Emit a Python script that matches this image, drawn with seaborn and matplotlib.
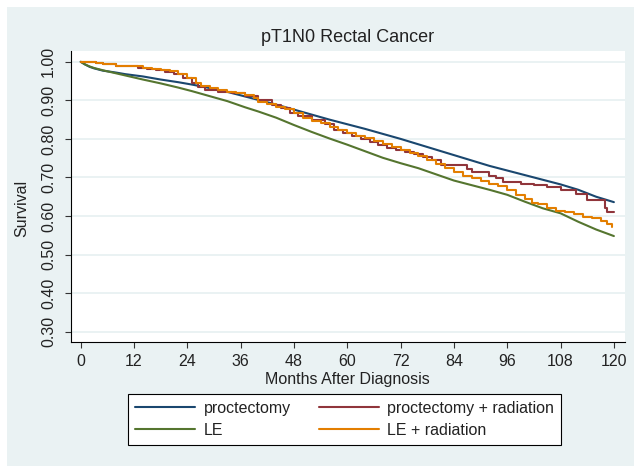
import numpy as np
import pandas as pd
import matplotlib
matplotlib.use("Agg")
import matplotlib.pyplot as plt
import seaborn as sns
from matplotlib.patches import Rectangle
from matplotlib.lines import Line2D

# ---------------- data ----------------
groups = ["proctectomy", "proctectomy + radiation", "LE", "LE + radiation"]
colors = ["#1A476F", "#90353B", "#55752F", "#E37E00"]

proct_t = [0, 1, 2, 3, 5, 8, 10, 14, 18, 22, 25, 29, 33, 37, 40, 44, 48, 52, 56,
           60, 64, 68, 72, 76, 80, 84, 88, 92, 96, 100, 104, 108, 112, 116, 120]
proct_s = [1.0, 0.993, 0.987, 0.983, 0.977, 0.972, 0.968, 0.962, 0.954, 0.947, 0.941,
           0.932, 0.922, 0.910, 0.901, 0.889, 0.876, 0.863, 0.850, 0.838, 0.826, 0.813,
           0.800, 0.786, 0.772, 0.758, 0.744, 0.730, 0.718, 0.706, 0.694, 0.682, 0.668,
           0.650, 0.636]

proctrad_t = [0, 3.5, 5, 8, 11, 13, 15, 17, 19, 21, 23, 25, 26.5, 28, 31, 34, 37, 40,
              43, 45, 47, 49, 52, 55, 57, 59, 61, 63, 65, 67, 69, 71, 73, 75, 77, 79,
              81, 87, 88, 92, 93.5, 95, 99, 102, 105, 108, 111.5, 114, 118, 118.5, 120]
proctrad_s = [1.0, 0.996, 0.994, 0.990, 0.988, 0.985, 0.982, 0.979, 0.973, 0.968, 0.958,
              0.945, 0.935, 0.927, 0.922, 0.918, 0.910, 0.900, 0.888, 0.880, 0.868, 0.860,
              0.850, 0.838, 0.824, 0.815, 0.808, 0.800, 0.792, 0.785, 0.776, 0.770, 0.765,
              0.760, 0.752, 0.744, 0.733, 0.722, 0.715, 0.705, 0.698, 0.689, 0.683, 0.680,
              0.674, 0.667, 0.657, 0.641, 0.620, 0.611, 0.611]

le_t = [0, 1, 2, 3, 5, 8, 11, 14, 18, 22, 25, 29, 33, 37, 40, 44, 48, 52, 56, 60, 64,
        68, 72, 76, 80, 84, 88, 92, 96, 100, 104, 108, 112, 116, 120]
le_s = [1.0, 0.993, 0.988, 0.984, 0.978, 0.970, 0.962, 0.954, 0.944, 0.933, 0.924,
        0.911, 0.898, 0.882, 0.871, 0.855, 0.836, 0.818, 0.801, 0.785, 0.768, 0.751,
        0.737, 0.724, 0.708, 0.692, 0.680, 0.668, 0.655, 0.637, 0.620, 0.607, 0.585,
        0.565, 0.548]

lerad_t = [0, 3.5, 5, 8, 11, 14, 16, 18, 20, 22, 24, 26, 27, 29, 31, 33, 35, 37, 39, 40,
           42, 44, 46, 48, 50, 52, 54, 56, 58, 60, 62, 64, 66, 68, 70, 72, 74, 76, 78,
           80, 82, 84, 86, 88, 90, 92, 94, 96, 98, 100, 101.5, 103, 105, 107, 109, 111,
           113, 115, 117, 118.5, 119.5]
lerad_s = [1.0, 0.996, 0.993, 0.990, 0.988, 0.984, 0.981, 0.978, 0.975, 0.968, 0.958,
           0.945, 0.937, 0.932, 0.927, 0.922, 0.918, 0.913, 0.905, 0.896, 0.890, 0.884,
           0.878, 0.866, 0.855, 0.847, 0.840, 0.832, 0.822, 0.815, 0.808, 0.802, 0.794,
           0.786, 0.778, 0.770, 0.763, 0.755, 0.745, 0.735, 0.724, 0.713, 0.705, 0.698,
           0.692, 0.684, 0.677, 0.668, 0.655, 0.645, 0.633, 0.630, 0.620, 0.612, 0.610,
           0.606, 0.598, 0.596, 0.588, 0.580, 0.571]

x_ticks = [0, 12, 24, 36, 48, 60, 72, 84, 96, 108, 120]
y_ticks = [0.30, 0.40, 0.50, 0.60, 0.70, 0.80, 0.90, 1.00]

# ---------------- figure ----------------
sns.set_theme(style="white")
plt.rcParams["font.family"] = ["Liberation Sans", "DejaVu Sans"]

W, H = 634, 466
FS = 11.5
TXT = "#222222"
fig = plt.figure(figsize=(W / 100, H / 100), dpi=100)
fig.patch.set_facecolor("white")
fig.patches.append(Rectangle((7 / W, 0), 1 - 7 / W, 1 - 7 / H, transform=fig.transFigure,
                             facecolor="#EAF2F3", edgecolor="none", zorder=-10))

L, R, T, B = 70.7, 625, 51, 341.7
ax = fig.add_axes([L / W, 1 - B / H, (R - L) / W, (B - T) / H])
ax.set_facecolor("white")

frames = []
for name, t, s in [("proctectomy", proct_t, proct_s),
                   ("proctectomy + radiation", proctrad_t, proctrad_s),
                   ("LE", le_t, le_s),
                   ("LE + radiation", lerad_t, lerad_s)]:
    frames.append(pd.DataFrame({"month": t, "survival": s, "group": name}))
df = pd.concat(frames, ignore_index=True)
pal = dict(zip(groups, colors))

# large groups: many tiny steps -> appear smooth
big = ["proctectomy", "LE"]
small = ["proctectomy + radiation", "LE + radiation"]
sns.lineplot(data=df[df["group"].isin(big)], x="month", y="survival", hue="group",
             hue_order=big, palette=pal, estimator=None, linewidth=1.5,
             legend=False, ax=ax)
sns.lineplot(data=df[df["group"].isin(small)], x="month", y="survival", hue="group",
             hue_order=small, palette=pal, drawstyle="steps-post", estimator=None,
             linewidth=1.5, legend=False, ax=ax)

ax.set_xlim(-2.25, 122.5)
ax.set_ylim(0.274, 1.028)
ax.set_xticks(x_ticks)
ax.set_xticklabels([str(v) for v in x_ticks])
ax.set_yticks(y_ticks)
ax.set_yticklabels([f"{v:.2f}" for v in y_ticks], rotation=90, va="center")

ax.yaxis.grid(True, color="#EAF2F3", linewidth=1.4)
ax.xaxis.grid(False)
ax.set_axisbelow(True)

for sp in ["top", "right"]:
    ax.spines[sp].set_visible(False)
for sp in ["left", "bottom"]:
    ax.spines[sp].set_color("black")
    ax.spines[sp].set_linewidth(0.8)

ax.tick_params(axis="both", direction="out", length=4, width=0.8, color="#333333",
               labelsize=FS, labelcolor=TXT)
ax.tick_params(axis="x", pad=4.5, bottom=True)
ax.tick_params(axis="y", pad=6.5, left=True)

ax.set_xlabel("Months After Diagnosis", fontsize=FS, color=TXT)
ax.xaxis.set_label_coords(0.5, (B - 372) / (B - T))
ax.set_ylabel("")

fig.text(21.7 / W, 1 - 208 / H, "Survival", rotation=90, ha="center", va="center",
         fontsize=FS, color=TXT)
fig.text(348 / W, 1 - 38 / H, "pT1N0 Rectal Cancer", ha="center", va="center",
         fontsize=13, color=TXT)

handles = [Line2D([], [], color=c, lw=1.5) for c in colors]
order = [0, 2, 1, 3]
leg = fig.legend([handles[i] for i in order], [groups[i] for i in order], ncol=2,
                 loc="upper left", bbox_to_anchor=(128 / W, 1 - 394 / H),
                 frameon=True, fancybox=False, edgecolor="black",
                 facecolor="white", framealpha=1, handlelength=3.76, handletextpad=0.53,
                 columnspacing=1.75, labelspacing=0.42, borderpad=0.44, fontsize=FS,
                 borderaxespad=0)
leg.get_frame().set_linewidth(0.8)
for txt in leg.get_texts():
    txt.set_color(TXT)

fig.savefig("out.png", dpi=100)
